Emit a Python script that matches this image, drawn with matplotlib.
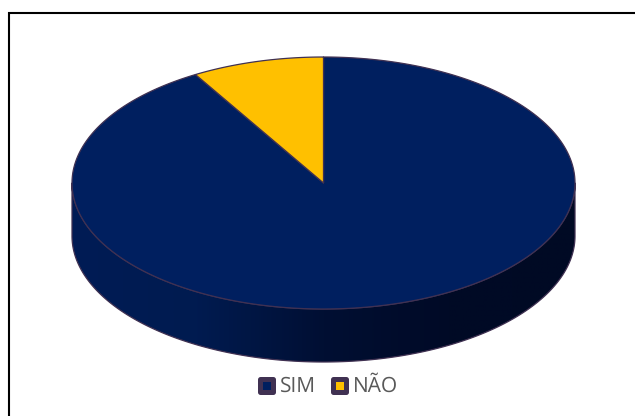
import numpy as np
import matplotlib
matplotlib.use("Agg")
import matplotlib.pyplot as plt
from matplotlib.patches import Rectangle, Polygon
from matplotlib.colors import LinearSegmentedColormap

plt.rcParams["text.hinting"] = "none"

categories = ["SIM", "NÃO"]
values = [91.5, 8.5]
colors = ["#001F5F", "#FFC000"]
edge = "#403152"

W, H = 635, 416
cx, cy, rx, ry, depth = 323.5, 183, 251.5, 126, 53

fig = plt.figure(figsize=(W / 100, H / 100), dpi=100)
ax = fig.add_axes([0, 0, 1, 1])
ax.set_xlim(0, W)
ax.set_ylim(H, 0)
ax.axis("off")

# frame: only its top and left sides fall inside the picture
ax.add_patch(Rectangle((9, 13), 700, 420, fc="white", ec="black", lw=1.5, clip_on=True))

def pt(theta):
    return cx + rx * np.sin(theta), cy - ry * np.cos(theta)

# side wall, shaded left to right and clipped to the wall outline
th = np.linspace(np.pi / 2, 3 * np.pi / 2, 361)
xs, ys = pt(th)
wall = Polygon(np.r_[np.c_[xs, ys], np.c_[xs[::-1], ys[::-1] + depth]], closed=True,
               fc="none", ec=edge, lw=0.9, joinstyle="round", zorder=3)
ax.add_patch(wall)
shade = LinearSegmentedColormap.from_list(
    "shade", [(0, "#001C55"), (0.25, "#001B50"), (0.5, "#000F33"),
              (0.75, "#000A26"), (1, "#000A24")])
im = ax.imshow(np.linspace(0, 1, 512)[None, :], cmap=shade, aspect="auto",
               extent=(cx - rx, cx + rx, cy + ry + depth, cy - ry), zorder=2,
               interpolation="bilinear")
im.set_clip_path(wall)
ax.set_xlim(0, W)
ax.set_ylim(H, 0)

# top wedges, clockwise from 12 o'clock
total = sum(values)
start = 0.0
for v, col in zip(values, colors):
    end = start + v / total * 2 * np.pi
    t = np.linspace(start, end, 361)
    x, y = pt(t)
    ax.add_patch(Polygon(np.r_[[(cx, cy)], np.c_[x, y]], closed=True, fc=col, ec=edge,
                         lw=0.9, joinstyle="round", zorder=4))
    start = end

# legend
for xc, col, label, tx in zip([266.5, 339.5], colors, categories, [279.5, 353]):
    ax.add_patch(Rectangle((xc - 6.5, 379), 13, 13, fc=col, ec=edge, lw=3.6,
                           joinstyle="round", zorder=5))
    ax.text(tx, 386, label, fontsize=15, color="#595959", family="Open Sans",
            va="center", ha="left", zorder=5)

fig.savefig("out.png", dpi=100)
